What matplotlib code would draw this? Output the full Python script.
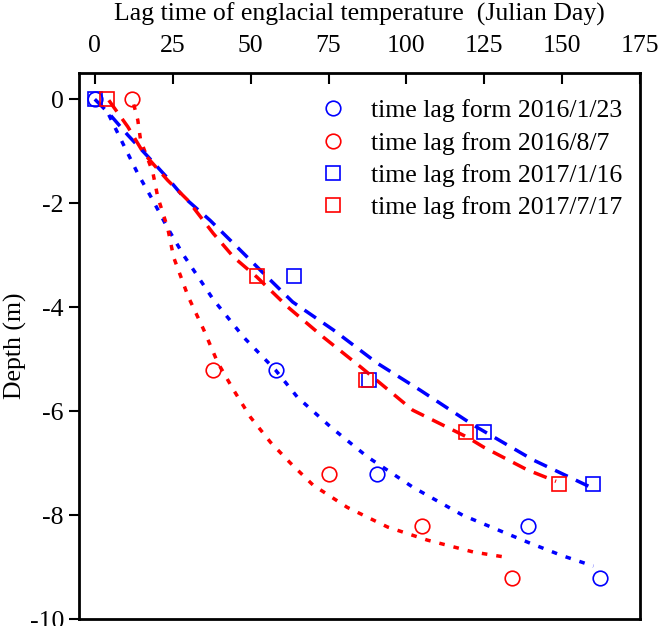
import numpy as np
import matplotlib
matplotlib.use('Agg')
import matplotlib.pyplot as plt

plt.rcParams['font.family'] = ['Liberation Serif', 'DejaVu Serif']

# measured points
circ_depth = [0, -5.2, -7.2, -8.2, -9.2]
lag_2016_01_23 = [0, 58, 90.7, 139, 162]
lag_2016_08_07 = [12, 38, 75, 105, 134]

sq_depth = [0, -3.4, -5.4, -6.4, -7.4]
lag_2017_01_16 = [0, 64, 88, 125, 160]
lag_2017_07_17 = [4, 52, 87, 119, 149]

# fitted curves
fit_2016_01_23_x = [4.5, 9, 13.8, 18.6, 23.4, 28.5, 38, 47.8, 58, 65, 75.6, 87.5, 102, 118, 130, 139.7, 150, 160]
fit_2016_01_23_y = [-0.3, -0.85, -1.43, -1.94, -2.48, -3.0, -3.85, -4.58, -5.21, -5.73, -6.3, -6.88, -7.46, -8.0, -8.3, -8.54, -8.78, -8.98]

fit_2016_08_07_x = [12.5, 13.8, 14.7, 16.3, 18.6, 20.2, 23.4, 25.3, 30, 35, 39.4, 44.6, 50, 56.4, 62.8, 70, 81, 94, 106.7, 121.5, 133]
fit_2016_08_07_y = [-0.1, -0.4, -0.79, -1.04, -1.4, -1.88, -2.48, -3.04, -3.8, -4.44, -5.06, -5.6, -6.12, -6.6, -7.0, -7.42, -7.85, -8.23, -8.48, -8.71, -8.82]

fit_2017_01_16_x = [0, 4.5, 10.6, 17, 23.4, 28.5, 37, 45.8, 55, 63.5, 76.6, 90.7, 104.5, 121.5, 140.7, 159]
fit_2017_01_16_y = [0, -0.27, -0.69, -1.1, -1.52, -1.88, -2.33, -2.85, -3.4, -3.9, -4.44, -5.08, -5.6, -6.27, -6.94, -7.46]

fit_2017_07_17_x = [4.5, 10.6, 15.7, 23.4, 29.8, 38, 44.6, 52, 62, 73.4, 85.3, 102, 119.5, 124.7, 138.8, 148]
fit_2017_07_17_y = [-0.02, -0.53, -1.04, -1.56, -1.94, -2.58, -3.04, -3.42, -4.0, -4.58, -5.15, -5.98, -6.5, -6.69, -7.13, -7.35]

fs = 18.5

fig = plt.figure(figsize=(6.6, 6.26), dpi=100)
ax = fig.add_axes([0.12, 0.011, 0.85, 0.872])

ax.plot(fit_2016_01_23_x, fit_2016_01_23_y, color='blue', lw=2.5, dashes=(1.6, 2.6))
ax.plot(fit_2016_08_07_x, fit_2016_08_07_y, color='red', lw=2.5, dashes=(1.6, 2.6))
ax.plot(fit_2017_01_16_x, fit_2017_01_16_y, color='blue', lw=2.5, dashes=(4, 2.6))
ax.plot(fit_2017_07_17_x, fit_2017_07_17_y, color='red', lw=2.5, dashes=(4, 2.6))

ms = 10.5
ax.plot(lag_2016_01_23, circ_depth, 'o', mfc='none', mec='blue', ms=ms, mew=1.2, ls='none',
        label='time lag form 2016/1/23')
ax.plot(lag_2016_08_07, circ_depth, 'o', mfc='none', mec='red', ms=ms, mew=1.2, ls='none',
        label='time lag from 2016/8/7')
ax.plot(lag_2017_01_16, sq_depth, 's', mfc='none', mec='blue', ms=ms - 1, mew=1.2, ls='none',
        label='time lag from 2017/1/16')
ax.plot(lag_2017_07_17, sq_depth, 's', mfc='none', mec='red', ms=ms - 1, mew=1.2, ls='none',
        label='time lag from 2017/7/17')

ax.set_xlim(-5, 175)
ax.set_ylim(-10, 0.5)
ax.set_xticks(np.arange(0, 176, 25))
ax.set_yticks([0, -2, -4, -6, -8, -10])
ax.set_yticklabels(['0', '-2', '-4', '-6', '-8', '-10'])
ax.xaxis.tick_top()
ax.xaxis.set_label_position('top')
ax.tick_params(axis='x', direction='in', length=8, width=1.5, labelsize=fs, pad=12)
ax.tick_params(axis='y', direction='out', length=7, width=1.5, labelsize=fs, pad=4)
ax.set_xlabel('Lag time of englacial temperature  (Julian Day)', fontsize=fs, labelpad=10)
ax.set_ylabel('Depth (m)', fontsize=fs, labelpad=2)
for s in ax.spines.values():
    s.set_linewidth(2)

ax.legend(loc='upper right', bbox_to_anchor=(1.0, 0.985), frameon=False, fontsize=fs,
          handletextpad=0.87, labelspacing=0.36, borderaxespad=0.3, handlelength=1.2)

fig.savefig('out.png', dpi=100)
